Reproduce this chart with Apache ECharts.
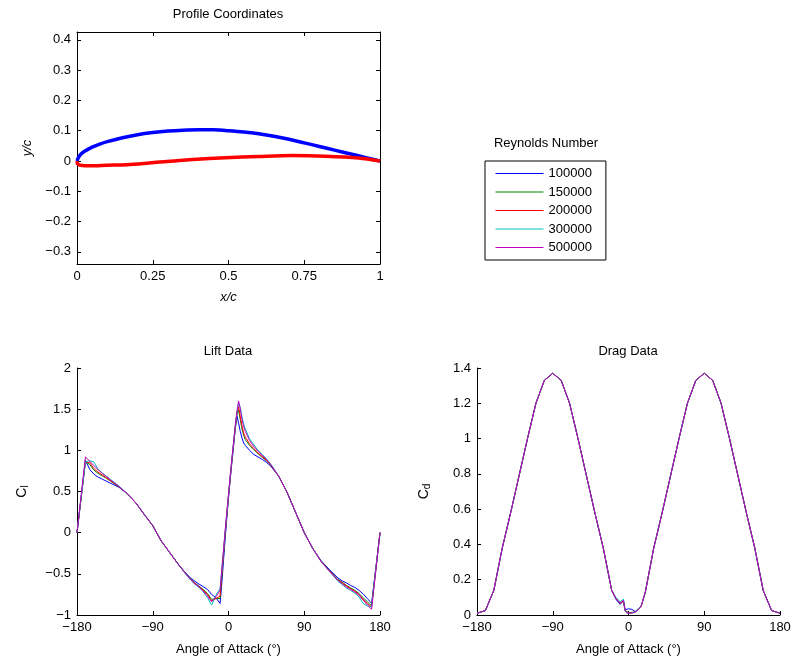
<!DOCTYPE html>
<html>
<head>
<meta charset="utf-8">
<script src="https://cdn.jsdelivr.net/npm/echarts@6/dist/echarts.min.js"></script>
<style>html,body{margin:0;padding:0;background:#fff;}#c{width:795px;height:661px;}</style>
</head>
<body>
<div id="c"></div>
<script>
// ---------- Profile coordinates ----------
const upperX = [0,0.005,0.0125,0.025,0.05,0.075,0.1,0.15,0.2,0.25,0.3,0.35,0.4,0.45,0.5,0.55,0.6,0.65,0.7,0.75,0.8,0.85,0.9,0.95,1];
const upperY = [0,0.012,0.022,0.032,0.046,0.056,0.064,0.077,0.087,0.094,0.099,0.102,0.1035,0.103,0.1,0.096,0.09,0.082,0.072,0.06,0.048,0.036,0.024,0.012,0];
const lowerX = [0,0.002,0.011,0.044,0.1,0.164,0.22,0.273,0.33,0.383,0.49,0.6,0.71,0.82,0.93,1];
const lowerY = [0,-0.009,-0.014,-0.016,-0.014,-0.012,-0.008,-0.003,0.001,0.005,0.011,0.015,0.018,0.016,0.01,0];
const profileYTicks = [-0.3,-0.2,-0.1,0,0.1,0.2,0.3,0.4];
const profileXTicks = [0,0.25,0.5,0.75,1];

// ---------- Legend ----------
const reynolds = ['100000','150000','200000','300000','500000'];
const colors = ['#0000ff','#008000','#ff0000','#00bfbf','#bf00bf'];

// ---------- Lift data ----------
const alphaL = [-180,-170,-165,-160,-155,-150,-145,-140,-135,-130,-120,-110,-100,-90,-80,-70,-60,-50,-45,-40,-35,-30,-25,-20,-15,-10,-8,-6,-4,-2,0,2,4,6,8,10,12,14,16,18,20,25,30,35,40,45,50,60,70,80,90,100,110,120,130,135,140,145,150,155,160,165,170,180];
const cl100k = [0,0.88,0.77,0.71,0.675,0.65,0.625,0.6,0.575,0.55,0.47,0.36,0.22,0.085,-0.1,-0.24,-0.38,-0.5,-0.55,-0.59,-0.625,-0.655,-0.69,-0.75,-0.79,-0.86,-0.62,-0.35,-0.08,0.18,0.42,0.64,0.85,1.05,1.25,1.42,1.33,1.23,1.15,1.09,1.06,1.0,0.95,0.92,0.89,0.855,0.81,0.68,0.48,0.24,0,-0.19,-0.34,-0.45,-0.55,-0.585,-0.61,-0.64,-0.665,-0.7,-0.745,-0.8,-0.86,0];
const cl150k = [0,0.86,0.83,0.76,0.72,0.69,0.66,0.625,0.59,0.555,0.47,0.36,0.22,0.085,-0.1,-0.24,-0.38,-0.505,-0.565,-0.61,-0.65,-0.69,-0.74,-0.81,-0.8,-0.8,-0.55,-0.28,-0.03,0.21,0.44,0.66,0.87,1.07,1.27,1.43,1.49,1.37,1.26,1.18,1.13,1.06,1.01,0.96,0.915,0.875,0.82,0.68,0.48,0.24,0,-0.19,-0.345,-0.46,-0.57,-0.6,-0.64,-0.67,-0.7,-0.74,-0.79,-0.84,-0.89,0];
const cl200k = [0,0.86,0.85,0.78,0.735,0.7,0.665,0.63,0.595,0.56,0.47,0.36,0.22,0.085,-0.1,-0.24,-0.38,-0.51,-0.57,-0.615,-0.655,-0.7,-0.75,-0.83,-0.8,-0.77,-0.5,-0.25,0,0.23,0.45,0.67,0.88,1.08,1.28,1.45,1.53,1.41,1.3,1.21,1.16,1.08,1.02,0.97,0.925,0.88,0.825,0.68,0.48,0.24,0,-0.19,-0.35,-0.465,-0.575,-0.61,-0.645,-0.68,-0.71,-0.75,-0.81,-0.86,-0.9,0];
const cl300k = [0,0.86,0.875,0.86,0.77,0.725,0.685,0.645,0.605,0.565,0.47,0.36,0.22,0.085,-0.1,-0.24,-0.38,-0.515,-0.575,-0.625,-0.665,-0.72,-0.79,-0.88,-0.76,-0.68,-0.46,-0.23,0.01,0.24,0.46,0.68,0.89,1.09,1.29,1.46,1.58,1.52,1.41,1.32,1.26,1.14,1.07,1.0,0.95,0.9,0.835,0.68,0.48,0.24,0,-0.19,-0.35,-0.47,-0.59,-0.63,-0.67,-0.7,-0.735,-0.78,-0.86,-0.89,-0.9,0];
const cl500k = [0,0.92,0.87,0.815,0.765,0.72,0.68,0.64,0.6,0.56,0.47,0.36,0.22,0.085,-0.1,-0.24,-0.38,-0.51,-0.57,-0.62,-0.66,-0.71,-0.77,-0.84,-0.78,-0.7,-0.45,-0.22,0.02,0.25,0.47,0.69,0.9,1.1,1.3,1.47,1.6,1.5,1.38,1.29,1.23,1.12,1.05,0.99,0.94,0.89,0.83,0.68,0.48,0.24,0,-0.19,-0.35,-0.47,-0.58,-0.62,-0.66,-0.69,-0.72,-0.76,-0.82,-0.88,-0.93,0];

// ---------- Drag data ----------
const alphaD = [-180,-170,-160,-150,-140,-130,-120,-110,-100,-90,-80,-70,-60,-50,-40,-30,-20,-15,-10,-8,-6,-4,-2,0,2,4,6,8,10,15,20,30,40,50,60,70,80,90,100,110,120,130,140,150,160,170,180];
const cd100k = [0.01,0.025,0.14,0.38,0.58,0.79,1.0,1.2,1.33,1.37,1.33,1.2,1.0,0.79,0.58,0.38,0.14,0.09,0.06,0.065,0.08,0.03,0.028,0.035,0.04,0.032,0.022,0.02,0.024,0.05,0.13,0.38,0.58,0.79,1.0,1.2,1.33,1.37,1.33,1.2,1.0,0.79,0.58,0.38,0.14,0.025,0.01];
const cd150k = [0.01,0.025,0.14,0.38,0.58,0.79,1.0,1.2,1.33,1.37,1.33,1.2,1.0,0.79,0.58,0.38,0.14,0.095,0.065,0.07,0.08,0.025,0.015,0.014,0.015,0.015,0.016,0.018,0.023,0.05,0.13,0.38,0.58,0.79,1.0,1.2,1.33,1.37,1.33,1.2,1.0,0.79,0.58,0.38,0.14,0.025,0.01];
const cd200k = [0.01,0.025,0.14,0.38,0.58,0.79,1.0,1.2,1.33,1.37,1.33,1.2,1.0,0.79,0.58,0.38,0.14,0.095,0.068,0.07,0.078,0.025,0.013,0.012,0.012,0.013,0.015,0.018,0.022,0.05,0.13,0.38,0.58,0.79,1.0,1.2,1.33,1.37,1.33,1.2,1.0,0.79,0.58,0.38,0.14,0.025,0.01];
const cd300k = [0.01,0.025,0.14,0.38,0.58,0.79,1.0,1.2,1.33,1.37,1.33,1.2,1.0,0.79,0.58,0.38,0.14,0.1,0.075,0.08,0.09,0.02,0.012,0.01,0.01,0.011,0.013,0.017,0.022,0.05,0.13,0.38,0.58,0.79,1.0,1.2,1.33,1.37,1.33,1.2,1.0,0.79,0.58,0.38,0.14,0.025,0.01];
const cd500k = [0.01,0.025,0.14,0.38,0.58,0.79,1.0,1.2,1.33,1.37,1.33,1.2,1.0,0.79,0.58,0.38,0.14,0.095,0.065,0.072,0.085,0.025,0.012,0.01,0.01,0.011,0.013,0.017,0.022,0.05,0.13,0.38,0.58,0.79,1.0,1.2,1.33,1.37,1.33,1.2,1.0,0.79,0.58,0.38,0.14,0.025,0.01];

const clSets = [cl100k, cl150k, cl200k, cl300k, cl500k];
const cdSets = [cd100k, cd150k, cd200k, cd300k, cd500k];

const FONT = "'Liberation Sans', Arial, Helvetica, sans-serif";
const fmt = v => String(Math.round(v * 1000) / 1000).replace('-', '\u2212');
const black = '#000';

function baseAxis(extra) {
  return Object.assign({
    type: 'value',
    axisLine: { show: true, onZero: false, lineStyle: { color: black, width: 1 } },
    axisTick: { show: true, inside: true, length: 4, lineStyle: { color: black } },
    axisLabel: { color: black, fontSize: 13, fontFamily: FONT, formatter: fmt, margin: 6 },
    splitLine: { show: false },
    nameTextStyle: { color: black, fontSize: 13, fontFamily: FONT }
  }, extra);
}

const zip = (xs, ys) => xs.map((x, i) => [x, ys[i]]);

const series = [];
series.push({ type: 'line', name: 'upper', xAxisIndex: 0, yAxisIndex: 0, data: zip(upperX, upperY),
  symbol: 'none', smooth: 0.3, lineStyle: { color: '#0000ff', width: 3.5 }, itemStyle: { color: '#0000ff' }, silent: true, z: 3 });
series.push({ type: 'line', name: 'lower', xAxisIndex: 0, yAxisIndex: 0, data: zip(lowerX, lowerY),
  symbol: 'none', smooth: 0.3, lineStyle: { color: '#ff0000', width: 3.5 }, itemStyle: { color: '#ff0000' }, silent: true, z: 4 });

reynolds.forEach((re, i) => {
  series.push({ type: 'line', name: re, xAxisIndex: 2, yAxisIndex: 2, data: zip(alphaL, clSets[i]),
    symbol: 'none', lineStyle: { color: colors[i], width: 1 }, itemStyle: { color: colors[i] }, z: 2 + i });
});
reynolds.forEach((re, i) => {
  series.push({ type: 'line', name: re, xAxisIndex: 3, yAxisIndex: 3, data: zip(alphaD, cdSets[i]),
    symbol: 'none', lineStyle: { color: colors[i], width: 1 }, itemStyle: { color: colors[i] }, z: 2 + i });
});

const subRich = { c: { fontSize: 14, fontFamily: FONT, color: black }, s: { fontSize: 10, fontFamily: FONT, color: black, padding: [6, 0, 0, 0] } };

const option = {
  animation: false,
  backgroundColor: '#fff',
  grid: [
    { left: 77, top: 32, width: 303, height: 232 },
    { left: 77, top: 368, width: 303, height: 247 },
    { left: 477, top: 368, width: 303, height: 247 }
  ],
  xAxis: [
    baseAxis({ gridIndex: 0, min: 0, max: 1, interval: 0.25, position: 'bottom',
      name: 'x/c', nameLocation: 'middle', nameGap: 27,
      nameTextStyle: { color: black, fontSize: 13, fontFamily: FONT, fontStyle: 'italic' } }),
    baseAxis({ gridIndex: 0, min: 0, max: 1, interval: 0.25, position: 'top', axisLabel: { show: false } }),
    baseAxis({ gridIndex: 1, min: -180, max: 180, interval: 90, name: 'Angle of Attack (\u00b0)', nameLocation: 'middle', nameGap: 28 }),
    baseAxis({ gridIndex: 2, min: -180, max: 180, interval: 90, name: 'Angle of Attack (\u00b0)', nameLocation: 'middle', nameGap: 28 })
  ],
  yAxis: [
    baseAxis({ gridIndex: 0, min: -0.34, max: 0.426, position: 'left',
      axisTick: { show: true, inside: true, length: 4, lineStyle: { color: black }, customValues: profileYTicks },
      axisLabel: { color: black, fontSize: 13, fontFamily: FONT, formatter: fmt, margin: 6, customValues: profileYTicks },
      name: 'y/c', nameLocation: 'middle', nameGap: 43, nameRotate: 90,
      nameTextStyle: { color: black, fontSize: 13, fontFamily: FONT, fontStyle: 'italic' } }),
    baseAxis({ gridIndex: 0, min: -0.34, max: 0.426, position: 'right',
      axisTick: { show: true, inside: true, length: 4, lineStyle: { color: black }, customValues: profileYTicks },
      axisLabel: { show: false } }),
    baseAxis({ gridIndex: 1, min: -1, max: 2, interval: 0.5,
      name: '{c|C}{s|l}', nameLocation: 'middle', nameGap: 47, nameRotate: 90,
      nameTextStyle: { color: black, fontFamily: FONT, rich: subRich } }),
    baseAxis({ gridIndex: 2, min: 0, max: 1.4, interval: 0.2,
      name: '{c|C}{s|d}', nameLocation: 'middle', nameGap: 45, nameRotate: 90,
      nameTextStyle: { color: black, fontFamily: FONT, rich: subRich } })
  ],
  legend: {
    data: reynolds.map((n, i) => ({
      name: n,
      itemStyle: { opacity: 0 },
      lineStyle: { color: colors[i], width: 1, opacity: 1 }
    })),
    orient: 'vertical',
    left: 485, top: 161,
    padding: [6, 14, 6, 10],
    itemWidth: 48, itemHeight: 14, itemGap: 5.5,
    borderColor: black, borderWidth: 1, backgroundColor: '#fff',
    selectedMode: false,
    textStyle: { color: black, fontSize: 13, fontFamily: FONT }
  },
  graphic: [
    { type: 'text', x: 228, y: 14, style: { text: 'Profile Coordinates', fill: black, font: '13px ' + FONT, textAlign: 'center', textVerticalAlign: 'middle' } },
    { type: 'text', x: 228, y: 351, style: { text: 'Lift Data', fill: black, font: '13px ' + FONT, textAlign: 'center', textVerticalAlign: 'middle' } },
    { type: 'text', x: 628, y: 351, style: { text: 'Drag Data', fill: black, font: '13px ' + FONT, textAlign: 'center', textVerticalAlign: 'middle' } },
    { type: 'text', x: 546, y: 143, style: { text: 'Reynolds Number', fill: black, font: '13px ' + FONT, textAlign: 'center', textVerticalAlign: 'middle' } }
  ],
  series: series
};

const chart = echarts.init(document.getElementById('c'), null, { renderer: 'canvas' });
chart.setOption(option);
</script>
</body>
</html>
